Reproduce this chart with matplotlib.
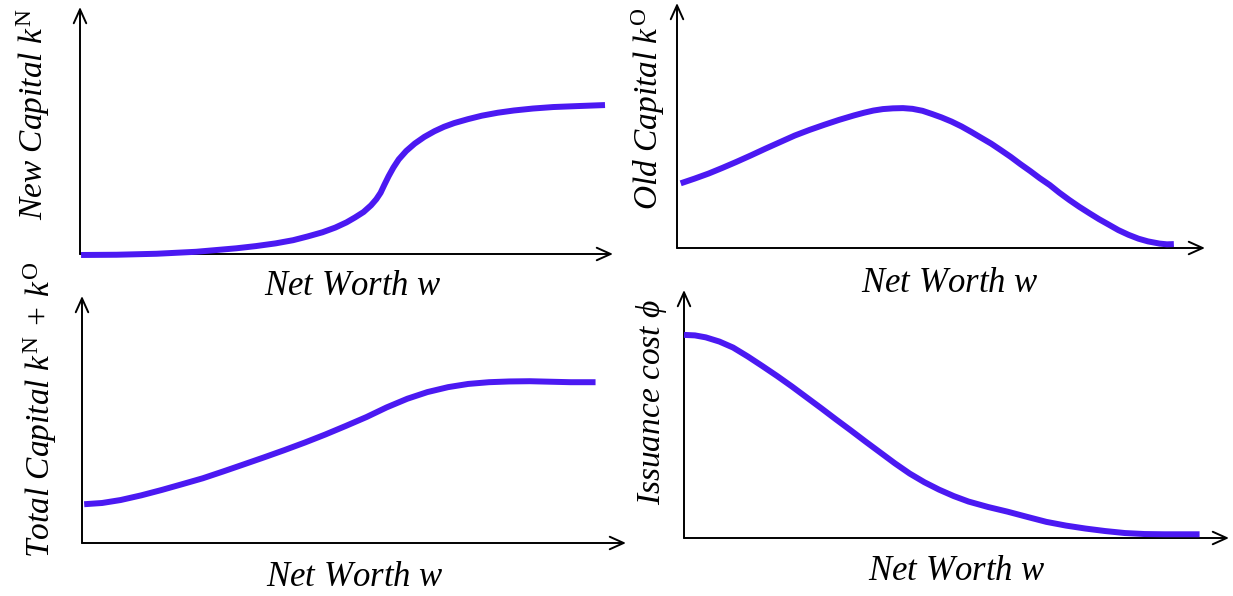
import matplotlib.pyplot as plt
import numpy as np

plt.rcParams['font.family'] = ['Liberation Serif', 'DejaVu Serif']
plt.rcParams['mathtext.fontset'] = 'custom'
plt.rcParams['mathtext.rm'] = 'Liberation Serif'
plt.rcParams['mathtext.it'] = 'Liberation Serif:italic'

# curves, in percent of each axis length
new_x = [0.2, 6.9, 14.4, 21.8, 29.3, 33.0, 36.7, 40.0, 42.7, 45.5, 47.9, 50.0,
         51.6, 53.2, 54.6, 55.6, 56.4, 57.1, 57.9, 58.8, 59.8, 61.2, 62.8, 64.6,
         66.5, 68.3, 70.2, 72.8, 75.4, 78.4, 81.4, 85.0, 88.8, 93.5, 98.5]
new_y = [-0.4, -0.3, 0.1, 0.9, 2.3, 3.2, 4.3, 5.6, 7.1, 8.8, 10.7, 12.8,
         14.8, 17.0, 19.7, 22.2, 24.8, 28.0, 31.5, 35.0, 38.3, 41.7, 44.7, 47.4,
         49.7, 51.5, 53.0, 54.6, 56.0, 57.2, 58.1, 58.9, 59.5, 59.9, 60.3]

old_x = [0.7, 3.3, 6.0, 8.6, 11.2, 14.0, 16.7, 19.5, 22.3, 25.1, 27.9, 30.7,
         33.5, 35.4, 37.2, 39.0, 40.9, 42.8, 44.6, 46.5, 48.3, 50.1, 52.0, 53.9,
         55.8, 57.6, 59.5, 61.3, 63.2, 65.0, 66.9, 68.7, 70.6, 72.4, 74.3, 76.2,
         78.1, 79.9, 81.8, 83.6, 85.5, 87.4, 89.2, 91.4, 92.8, 94.1]
old_y = [26.4, 28.3, 30.4, 32.7, 35.1, 37.8, 40.5, 43.2, 45.9, 48.2, 50.3, 52.3,
         54.1, 55.2, 56.1, 56.7, 57.0, 57.1, 56.8, 56.0, 54.7, 53.3, 51.6, 49.6,
         47.3, 45.0, 42.6, 40.0, 37.2, 34.3, 31.4, 28.5, 25.7, 22.6, 19.6, 16.8,
         14.2, 11.8, 9.5, 7.3, 5.4, 3.8, 2.7, 1.8, 1.5, 1.6]

tot_x = [0.4, 3.7, 7.1, 10.9, 14.7, 18.4, 22.2, 26.0, 29.7, 33.5, 37.2, 41.0,
         44.7, 48.5, 52.3, 56.0, 59.8, 63.5, 67.3, 71.0, 74.8, 78.5, 82.3, 86.0,
         89.8, 94.4]
tot_y = [15.7, 16.2, 17.4, 19.3, 21.5, 23.8, 26.2, 29.0, 31.8, 34.7, 37.6, 40.7,
         43.9, 47.4, 51.0, 54.9, 58.4, 61.1, 63.1, 64.4, 65.1, 65.4, 65.5, 65.3,
         65.1, 65.1]

phi_x = [0.0, 2.0, 4.0, 6.5, 9.0, 11.7, 14.4, 17.1, 19.8, 22.5, 25.2, 27.9,
         30.6, 33.3, 36.0, 38.7, 41.4, 44.1, 46.8, 49.5, 52.2, 55.8, 59.4, 63.0,
         66.5, 70.1, 73.7, 77.3, 80.9, 84.5, 88.1, 94.6]
phi_y = [81.9, 81.7, 80.9, 79.2, 76.8, 73.2, 69.3, 65.3, 61.1, 56.7, 52.3, 47.8,
         43.4, 38.9, 34.5, 30.1, 26.0, 22.5, 19.5, 16.9, 14.7, 12.5, 10.6, 8.5,
         6.5, 5.0, 3.8, 2.8, 2.0, 1.6, 1.5, 1.5]

ylabels = [r'New Capital $k^{\mathrm{N}}$', r'Old Capital $k^{\mathrm{O}}$',
           r'Total Capital $k^{\mathrm{N}}$ + $k^{\mathrm{O}}$', r'Issuance cost $\phi$']
xlabel = r'Net Worth $w$'

W, H = 1233, 596
BLUE = '#4B19F2'
fig = plt.figure(figsize=(W / 100, H / 100), dpi=100)


def add_panel(left, right, xaxis, top):
    ax = fig.add_axes([left / W, (H - xaxis) / H, (right - left) / W, (xaxis - top) / H])
    ax.set_xlim(0, 100)
    ax.set_ylim(0, 100)
    ax.axis('off')
    for tip in [(1, 0), (0, 1)]:
        ax.annotate('', xy=tip, xytext=(0, 0), xycoords='axes fraction',
                    arrowprops=dict(arrowstyle='->,head_length=1.0,head_width=0.45',
                                    lw=1.4, color='black', shrinkA=0, shrinkB=0,
                                    mutation_scale=10))
    return ax


panels = [
    ((80, 613, 254, 7), new_x, new_y, (33, 114), (353, 287)),
    ((677, 1205, 248, 3), old_x, old_y, (648, 109), (950, 283)),
    ((82, 626, 543, 296), tot_x, tot_y, (40, 410), (355, 577)),
    ((684, 1229, 538, 290), phi_x, phi_y, (652, 402), (957, 572)),
]

for i, (box, xs, ys, ypos, xpos) in enumerate(panels):
    ax = add_panel(*box)
    ax.plot(xs, ys, color=BLUE, lw=4.3, clip_on=False, zorder=5,
            solid_capstyle='butt', solid_joinstyle='round')
    fig.text(ypos[0] / W, 1 - ypos[1] / H, ylabels[i], rotation=90,
             ha='center', va='center', fontsize=24, style='italic')
    fig.text(xpos[0] / W, 1 - xpos[1] / H, xlabel,
             ha='center', va='center', fontsize=25, style='italic')

fig.savefig('out.png', dpi=100, facecolor='white')
